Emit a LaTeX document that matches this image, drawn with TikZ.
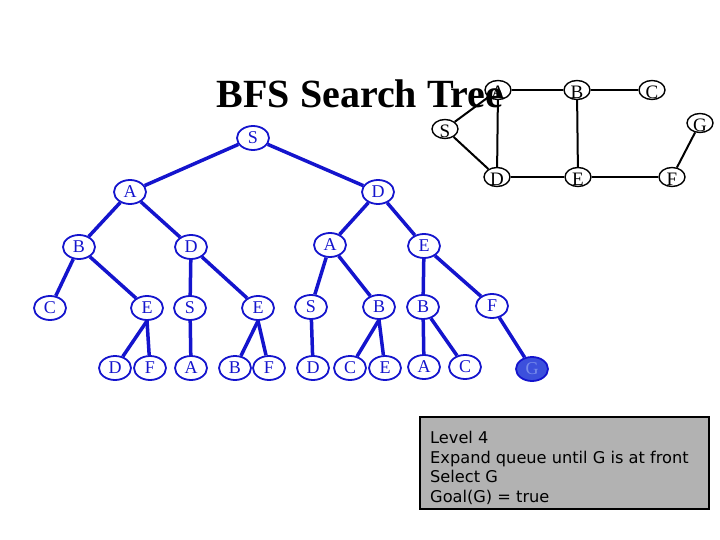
\documentclass[tikz,border=0pt]{standalone}
\usepackage{fontspec}
\setmainfont{Liberation Serif}
\newfontfamily\boxfont{DejaVu Sans}
\usetikzlibrary{shapes.geometric}
\definecolor{tblue}{RGB}{20,20,205}
\definecolor{gfill}{RGB}{60,80,220}
\definecolor{gtext}{RGB}{120,140,235}
\definecolor{boxgray}{RGB}{178,178,178}
\tikzset{
  tn/.style={ellipse, draw=tblue, line width=1.8pt, minimum width=32pt, minimum height=24pt,
    inner sep=0pt, text=tblue, font=\fontsize{18}{18}\selectfont},
  goal/.style={tn, fill=gfill, text=gtext},
  te/.style={draw=tblue, line width=3.5pt},
  gn/.style={ellipse, draw=black, line width=1.4pt, minimum width=26pt, minimum height=19pt,
    inner sep=0pt, font=\fontsize{19}{19}\selectfont},
  ge/.style={draw=black, line width=2pt},
}
\begin{document}
\begin{tikzpicture}[x=1pt,y=-1pt]
\useasboundingbox (0,0) rectangle (720,540);
% title
\node[anchor=base, font=\fontsize{40}{40}\selectfont\bfseries] (title) at (360,108) {BFS Search Tree};
% graph
\node[gn] (gA) at (498,90) {};
\node[gn] (gB) at (577,90) {};
\node[gn] (gC) at (652,90) {};
\node[gn] (gS) at (445,129) {};
\node[gn] (gG) at (700,123) {};
\node[gn] (gD) at (497,177) {};
\node[gn] (gE) at (578,177) {};
\node[gn] (gF) at (672,177) {};
\foreach \n/\t in {gA/A,gB/B,gC/C,gS/S,gG/G,gD/D,gE/E,gF/F}
  \node[font=\fontsize{19}{19}\selectfont, inner sep=0pt] (\n t) at ([yshift=-2pt]\n.center) {\t};
\draw[ge] (gS) -- (gA);
\draw[ge] (gS) -- (gD);
\draw[ge] (gA) -- (gB);
\draw[ge] (gA) -- (gD);
\draw[ge] (gB) -- (gC);
\draw[ge] (gB) -- (gE);
\draw[ge] (gD) -- (gE);
\draw[ge] (gE) -- (gF);
\draw[ge] (gF) -- (gG);
% tree level 0-1
\node[tn] (S) at (253,138) {S};
\node[tn] (A) at (130,192) {A};
\node[tn] (D) at (378,192) {D};
% level 2
\node[tn] (AB) at (79,247) {B};
\node[tn] (AD) at (191,247) {D};
\node[tn] (DA) at (330,245) {A};
\node[tn] (DE) at (424,246) {E};
% level 3
\node[tn] (ABC) at (50,308) {C};
\node[tn] (ABE) at (147,308) {E};
\node[tn] (ADS) at (190,308) {S};
\node[tn] (ADE) at (258,308) {E};
\node[tn] (DAS) at (311,307) {S};
\node[tn] (DAB) at (379,307) {B};
\node[tn] (DEB) at (423,307) {B};
\node[tn] (DEF) at (492,306) {F};
% level 4
\node[tn] (L1) at (115,368) {D};
\node[tn] (L2) at (150,368) {F};
\node[tn] (L3) at (191,368) {A};
\node[tn] (L4) at (235,368) {B};
\node[tn] (L5) at (269,368) {F};
\node[tn] (L6) at (313,368) {D};
\node[tn] (L7) at (350,368) {C};
\node[tn] (L8) at (385,368) {E};
\node[tn] (L9) at (424,367) {A};
\node[tn] (L10) at (465,367) {C};
\node[goal] (L11) at (532,369) {G};
% tree edges
\draw[te] (S) -- (A);
\draw[te] (S) -- (D);
\draw[te] (A) -- (AB);
\draw[te] (A) -- (AD);
\draw[te] (D) -- (DA);
\draw[te] (D) -- (DE);
\draw[te] (AB) -- (ABC);
\draw[te] (AB) -- (ABE);
\draw[te] (AD) -- (ADS);
\draw[te] (AD) -- (ADE);
\draw[te] (DA) -- (DAS);
\draw[te] (DA) -- (DAB);
\draw[te] (DE) -- (DEB);
\draw[te] (DE) -- (DEF);
\draw[te] (ABE.south) -- (L1);
\draw[te] (ABE.south) -- (L2);
\draw[te] (ADS) -- (L3);
\draw[te] (ADE.south) -- (L4);
\draw[te] (ADE.south) -- (L5);
\draw[te] (DAS) -- (L6);
\draw[te] (DAB.south) -- (L7);
\draw[te] (DAB.south) -- (L8);
\draw[te] (DEB) -- (L9);
\draw[te] (DEB) -- (L10);
\draw[te] (DEF) -- (L11);
% text box
\node[draw=black, line width=2pt, fill=boxgray, minimum width=289pt, minimum height=92pt,
  anchor=north west, inner sep=0pt] (box) at (419,416) {};
\node[anchor=north west, align=left, inner sep=0pt,
  font=\boxfont\fontsize{16.2}{19.6}\selectfont] (boxtext) at (430,431)
  {Level 4\\Expand queue until G is at front\\Select G\\Goal(G) = true};
\end{tikzpicture}
\end{document}
